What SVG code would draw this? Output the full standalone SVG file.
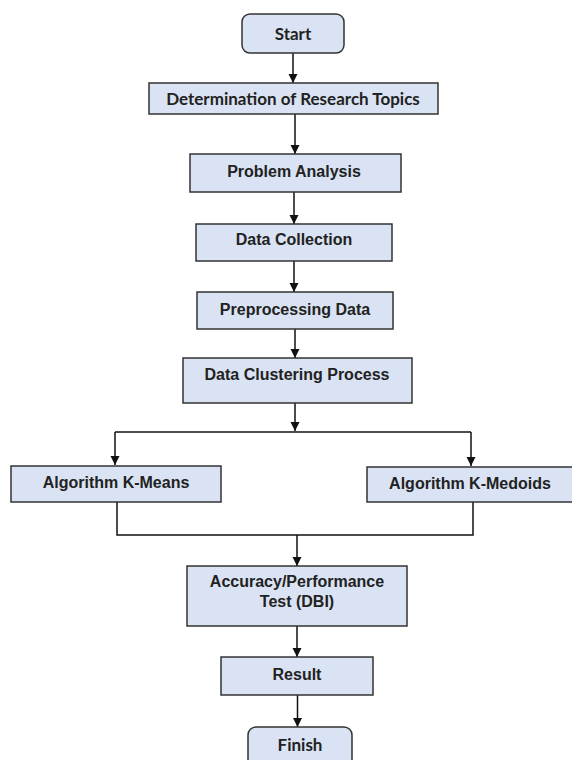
<svg xmlns="http://www.w3.org/2000/svg" width="572" height="760" viewBox="0 0 572 760">
<defs>
<marker id="ah" markerWidth="10" markerHeight="10" refX="9" refY="5" orient="auto" markerUnits="userSpaceOnUse">
<path d="M0,0.5 L9,5 L0,9.5 Z" fill="#111"/>
</marker>
<style>
.box{fill:#dae3f3;stroke:#333;stroke-width:1.5}
.t{font-family:"Liberation Sans",Arial,sans-serif;font-weight:bold;font-size:16px;fill:#222;text-anchor:middle}
.c{font-family:Lato,"Open Sans",sans-serif;font-weight:bold;font-size:17px;fill:#222;text-anchor:middle}
.ln{fill:none;stroke:#111;stroke-width:1.5}
</style>
</defs>
<rect width="572" height="760" fill="#fff"/>
<g id="connectors">
<path class="ln" d="M293,53 V83" marker-end="url(#ah)"/>
<path class="ln" d="M295,114 V154" marker-end="url(#ah)"/>
<path class="ln" d="M294,192 V224" marker-end="url(#ah)"/>
<path class="ln" d="M294,261 V292" marker-end="url(#ah)"/>
<path class="ln" d="M295,329 V358" marker-end="url(#ah)"/>
<path class="ln" d="M295,403 V431" marker-end="url(#ah)"/>
<path class="ln" d="M115,432 H471"/>
<path class="ln" d="M115,432 V465" marker-end="url(#ah)"/>
<path class="ln" d="M471,432 V466" marker-end="url(#ah)"/>
<path class="ln" d="M117,502 V535 H473 V502"/>
<path class="ln" d="M297,535 V566" marker-end="url(#ah)"/>
<path class="ln" d="M297,626 V657" marker-end="url(#ah)"/>
<path class="ln" d="M297.5,695 V727" marker-end="url(#ah)"/>
</g>
<g id="start"><rect class="box" x="242" y="14" width="102" height="39" rx="8"/><text class="c" x="293" y="40">Start</text></g>
<g id="determination"><rect class="box" x="149" y="83" width="289" height="31"/><text class="c" x="293" y="105">Determination of Research Topics</text></g>
<g id="problem"><rect class="box" x="190" y="154" width="211" height="38"/><text class="t" x="294" y="177">Problem Analysis</text></g>
<g id="collection"><rect class="box" x="196" y="224" width="196" height="37"/><text class="t" x="294" y="245">Data Collection</text></g>
<g id="preprocessing"><rect class="box" x="197" y="292" width="196" height="37"/><text class="t" x="295" y="315">Preprocessing Data</text></g>
<g id="clustering"><rect class="box" x="183" y="358" width="229" height="45"/><text class="t" x="297" y="380">Data Clustering Process</text></g>
<g id="kmeans"><rect class="box" x="11" y="466" width="210" height="36"/><text class="t" x="116" y="488">Algorithm K-Means</text></g>
<g id="kmedoids"><rect class="box" x="367" y="467" width="207" height="35"/><text class="t" x="470" y="489">Algorithm K-Medoids</text></g>
<g id="accuracy"><rect class="box" x="187" y="566" width="220" height="60"/><text class="t" x="297" y="587">Accuracy/Performance</text><text class="t" x="297" y="607">Test (DBI)</text></g>
<g id="result"><rect class="box" x="221" y="657" width="152" height="38"/><text class="t" x="297" y="680">Result</text></g>
<g id="finish"><rect class="box" x="248" y="727" width="104" height="45" rx="8"/><text class="c" x="300" y="751">Finish</text></g>
</svg>
